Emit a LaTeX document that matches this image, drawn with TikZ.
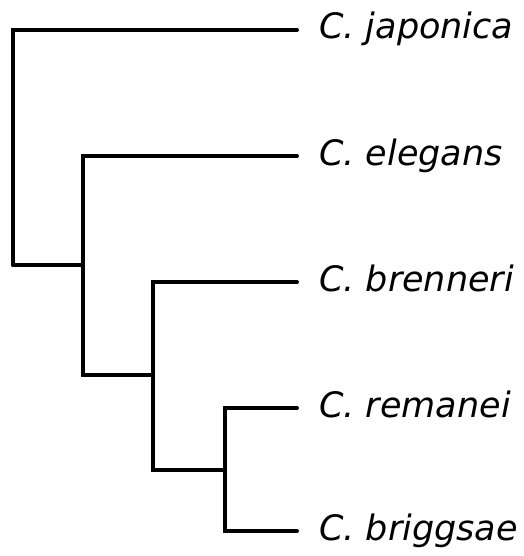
\documentclass[tikz,border=0pt]{standalone}
\usepackage{fontspec}
\setmainfont{DejaVu Sans}
\usetikzlibrary{positioning}
\tikzset
{
	branch/.style = {draw=black, line width=4pt, line cap=round},
	leaf/.style   = {anchor=base west, inner sep=0pt, font=\fontsize{35}{40}\selectfont\itshape}
}

\begin{document}
\begin{tikzpicture}[x=1pt, y=-1pt]
\useasboundingbox (0,0) rectangle (523,556);
% inner nodes
\coordinate (root) at (13,265);
\coordinate (n2) at (83,265);
\coordinate (n3) at (153,375);
\coordinate (n4) at (225,470);
% tips
\coordinate (tjap) at (297,30);
\coordinate (tele) at (297,156);
\coordinate (tbre) at (297,282);
\coordinate (trem) at (297,408);
\coordinate (tbri) at (297,531);
\node[leaf] (jap) at (319,39) {C. japonica};
\node[leaf] (ele) at (319,165) {C. elegans};
\node[leaf] (bre) at (319,291) {C. brenneri};
\node[leaf] (rem) at (319,417) {C. remanei};
\node[leaf] (bri) at (319,540) {C. briggsae};
% branches
\draw[branch] (root) |- (tjap);
\draw[branch] (root) -- (n2);
\draw[branch] (n2) |- (tele);
\draw[branch] (n2) |- (n3);
\draw[branch] (n3) |- (tbre);
\draw[branch] (n3) |- (n4);
\draw[branch] (n4) |- (trem);
\draw[branch] (n4) |- (tbri);
\end{tikzpicture}
\end{document}
